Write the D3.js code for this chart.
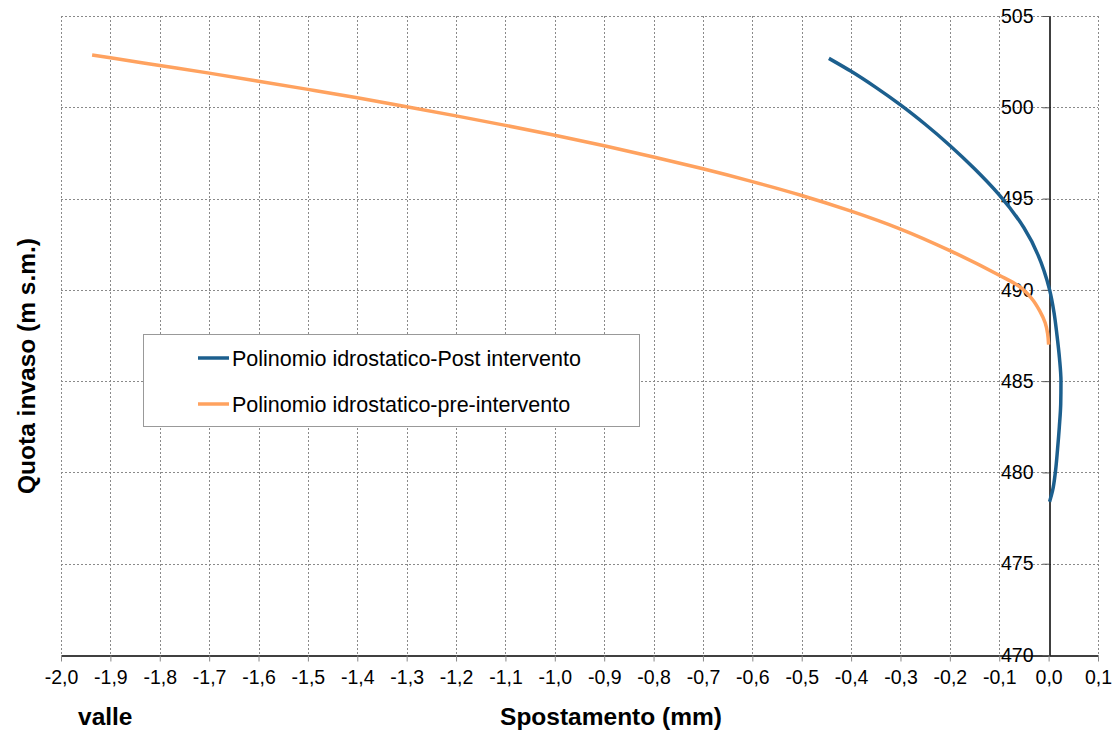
<!DOCTYPE html>
<html>
<head>
<meta charset="utf-8">
<script src="https://cdn.jsdelivr.net/npm/d3@7"></script>
<style>
  body { margin: 0; background: #fff; }
  text { font-family: "Liberation Sans", Arial, sans-serif; fill: #000; }
  .grid line { stroke: #8a8a8a; stroke-width: 1; stroke-dasharray: 2,2; }
</style>
</head>
<body>
<div id="chart"></div>
<script>
// curve post intervento (blue): quota vs spostamento
var postQuota = [502.68, 501.97, 501.09, 500.13, 499.07, 497.91, 496.63, 495.2, 493.4, 490.0, 488.75, 487.5, 486.25, 485.0, 483.75, 482.5, 481.25, 480.0, 479.0, 478.4];
var postSpost = [-0.445, -0.4, -0.35, -0.3, -0.25, -0.2, -0.15, -0.1, -0.05, 0.002, 0.011, 0.017, 0.022, 0.025, 0.0245, 0.0217, 0.018, 0.0136, 0.008, 0.002];

// curve pre intervento (orange)
var preQuota = [502.86, 502.71, 502.29, 501.87, 501.43, 500.98, 500.52, 500.03, 499.53, 499.01, 498.47, 497.89, 497.28, 496.63, 495.93, 495.17, 494.31, 493.33, 492.15, 490.8, 490.2, 489.55, 488.85, 488.2, 487.6, 487.0];
var preSpost = [-1.937, -1.9, -1.8, -1.7, -1.6, -1.5, -1.4, -1.3, -1.2, -1.1, -1.0, -0.9, -0.8, -0.7, -0.6, -0.5, -0.4, -0.3, -0.2, -0.1, -0.06, -0.035, -0.018, -0.007, -0.002, 0.0];

var seriesNames = ["Polinomio idrostatico-Post intervento", "Polinomio idrostatico-pre-intervento"];
var seriesColors = ["#1c5f8e", "#ffa25f"];

var xTicks = d3.range(-20, 2).map(i => i / 10);
var yTicks = [470, 475, 480, 485, 490, 495, 500, 505];

var svgWidth = 1115;
var svgHeight = 731;

var svg = d3.select("#chart")
    .append("svg")
    .attr("width", svgWidth)
    .attr("height", svgHeight);

var x = d3.scaleLinear().domain([-2.0, 0.1]).range([61, 1098]);
var y = d3.scaleLinear().domain([470, 505]).range([655, 16]);

// italian number format: comma decimal, plain hyphen minus
var it = d3.formatLocale({decimal: ",", thousands: ".", grouping: [3], currency: ["", "€"], minus: "-"});
var fmt = it.format(".1f");

// gridlines
var grid = svg.append("g").attr("class", "grid");
grid.selectAll(".vg")
    .data(xTicks.filter(d => Math.abs(d) > 1e-9))
    .enter().append("line")
    .attr("x1", d => Math.round(x(d)) + 0.5)
    .attr("x2", d => Math.round(x(d)) + 0.5)
    .attr("y1", y(505))
    .attr("y2", y(470));
grid.selectAll(".hg")
    .data(yTicks.filter(d => d > 470))
    .enter().append("line")
    .attr("x1", x(-2.0))
    .attr("x2", x(0.1))
    .attr("y1", d => Math.round(y(d)) + 0.5)
    .attr("y2", d => Math.round(y(d)) + 0.5);

// x axis at bottom
var xAxis = svg.append("g")
    .attr("transform", `translate(0, ${Math.round(y(470)) + 0.5})`)
    .call(d3.axisBottom(x).tickValues(xTicks).tickFormat(fmt).tickSize(6).tickSizeOuter(0).tickPadding(9));
xAxis.select(".domain").attr("stroke", "#000").attr("stroke-width", 1.5);
xAxis.selectAll(".tick line").attr("stroke", "#888");
xAxis.selectAll("text").style("font-size", "19.5px").attr("fill", "#000");

// y axis at x = 0
var x0 = Math.round(x(0)) + 0.5;
var yAxis = svg.append("g")
    .attr("transform", `translate(${x0}, 0)`)
    .call(d3.axisLeft(y).tickValues(yTicks).tickFormat(d3.format("d")).tickSize(7).tickSizeOuter(0).tickPadding(9));
yAxis.select(".domain").attr("stroke", "#000").attr("stroke-width", 1.5);
yAxis.selectAll(".tick line").attr("stroke", "#555");
yAxis.selectAll("text").style("font-size", "19.5px").attr("fill", "#000");

// curves - quota is monotone along each curve, so interpolate monotone in y
var line = d3.line()
    .x(d => x(d[0]))
    .y(d => y(d[1]))
    .curve(d3.curveMonotoneY);

var preData = preSpost.map((v, i) => [v, preQuota[i]]).sort((a, b) => a[1] - b[1]);
var postData = postSpost.map((v, i) => [v, postQuota[i]]).sort((a, b) => a[1] - b[1]);

svg.append("path")
    .datum(preData)
    .attr("d", line)
    .attr("fill", "none")
    .attr("stroke", seriesColors[1])
    .attr("stroke-width", 3.5);

svg.append("path")
    .datum(postData)
    .attr("d", line)
    .attr("fill", "none")
    .attr("stroke", seriesColors[0])
    .attr("stroke-width", 3.5);

// legend
var legend = svg.append("g");
legend.append("rect")
    .attr("x", 143.5).attr("y", 334.5)
    .attr("width", 496).attr("height", 92)
    .attr("fill", "#fff")
    .attr("stroke", "#999")
    .attr("stroke-width", 1);

seriesNames.forEach(function(name, i) {
    var ly = 358 + i * 46;
    legend.append("line")
        .attr("x1", 198).attr("x2", 229)
        .attr("y1", ly).attr("y2", ly)
        .attr("stroke", seriesColors[i])
        .attr("stroke-width", 3.5);
    legend.append("text")
        .attr("x", 232).attr("y", ly)
        .attr("dy", "0.35em")
        .style("font-size", "21.5px")
        .text(name);
});

// axis titles
svg.append("text")
    .attr("x", 611).attr("y", 725)
    .attr("text-anchor", "middle")
    .style("font-size", "24.5px")
    .style("font-weight", "bold")
    .text("Spostamento (mm)");

svg.append("text")
    .attr("x", 78).attr("y", 725)
    .style("font-size", "24.5px")
    .style("font-weight", "bold")
    .text("valle");

svg.append("text")
    .attr("transform", "translate(35, 366) rotate(-90)")
    .attr("text-anchor", "middle")
    .style("font-size", "24.5px")
    .style("font-weight", "bold")
    .text("Quota invaso (m s.m.)");
</script>
</body>
</html>
